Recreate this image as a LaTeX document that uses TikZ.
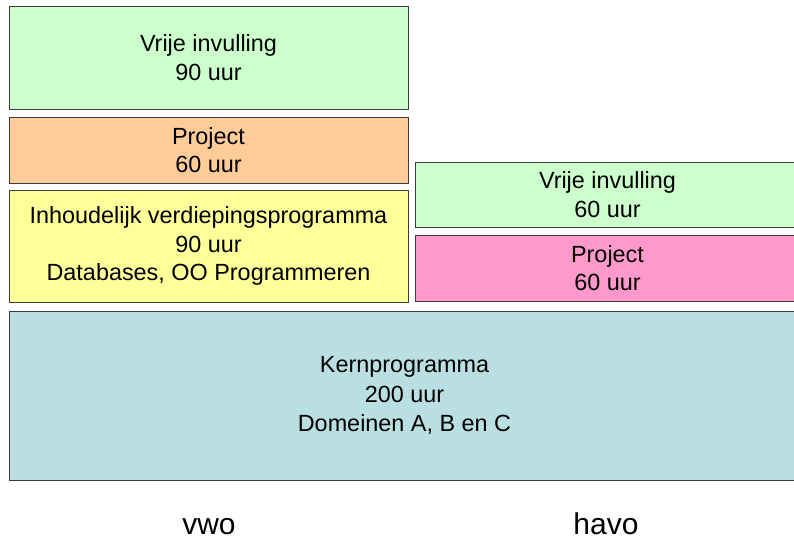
\documentclass[tikz,border=0pt]{standalone}
\usepackage{fontspec}
\setmainfont{Liberation Sans}
\definecolor{cgreen}{RGB}{204,255,204}
\definecolor{corange}{RGB}{255,204,153}
\definecolor{cyellow}{RGB}{255,255,153}
\definecolor{cpink}{RGB}{255,153,204}
\definecolor{cblue}{RGB}{185,223,226}
\definecolor{cedge}{RGB}{60,60,60}
\tikzset{
  blok/.style={draw=cedge, line width=1pt, rectangle, inner sep=0pt, align=center,
    font=\fontsize{23.4}{28.6}\selectfont},
  lbl/.style={inner sep=0pt, font=\fontsize{30}{34}\selectfont}
}
\begin{document}
\begin{tikzpicture}[x=1pt,y=-1pt]
\useasboundingbox[fill=white] (0,0) rectangle (794,541);
\begin{scope}
\clip (0,0) rectangle (794,541);
\node[blok, fill=cgreen, minimum width=399pt, minimum height=103pt] (vv) at (208.5,57.5) {Vrije invulling\\90 uur};
\node[blok, fill=corange, minimum width=399pt, minimum height=66pt] (vp) at (208.5,150) {Project\\60 uur};
\node[blok, fill=cyellow, minimum width=399pt, minimum height=112pt] (vi) at (208.5,246) {Inhoudelijk verdiepingsprogramma\\90 uur\\Databases, OO Programmeren};
\node[blok, fill=cgreen, minimum width=385pt, minimum height=65pt] (hv) at (607.5,194.5) {Vrije invulling\\60 uur};
\node[blok, fill=cpink, minimum width=385pt, minimum height=66pt] (hp) at (607.5,268) {Project\\60 uur};
\node[blok, fill=cblue, minimum width=791pt, minimum height=169pt, font=\fontsize{23.4}{29.5}\selectfont] (k) at (404.5,395.5) {Kernprogramma\\200 uur\\Domeinen A, B en C};
\end{scope}
\node[lbl, anchor=base] (vwo) at (209,534) {vwo};
\node[lbl, anchor=base] (havo) at (606,534) {havo};
\end{tikzpicture}
\end{document}
